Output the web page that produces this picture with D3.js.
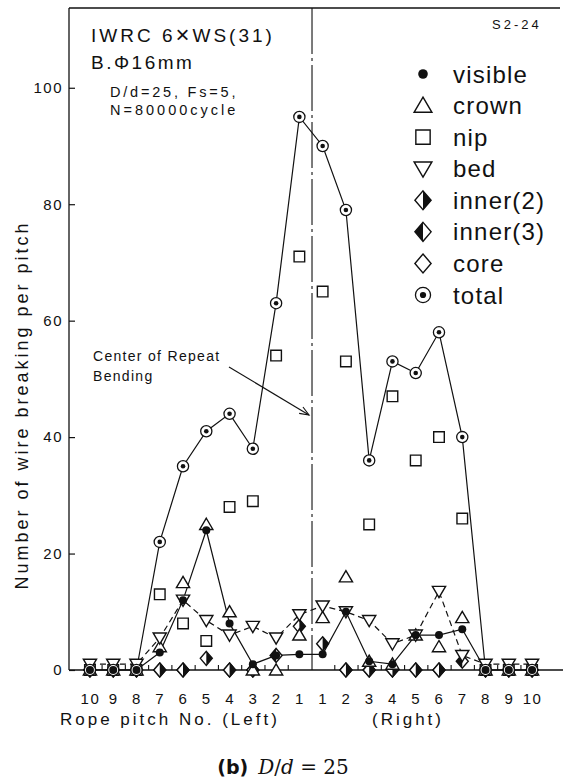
<!DOCTYPE html>
<html>
<head>
<meta charset="utf-8">
<script src="https://cdn.jsdelivr.net/npm/d3@7"></script>
<style>
  body { margin: 0; background: #fff; }
  text { font-family: "Liberation Sans", Arial, sans-serif; fill: #111; }
</style>
</head>
<body>
<svg id="chart" width="563" height="784"></svg>
<script>
// Rope pitch positions: left side 10..1, then right side 1..10
const pitchLabels = ["10","9","8","7","6","5","4","3","2","1","1","2","3","4","5","6","7","8","9","10"];
const yTicks = [0, 20, 40, 60, 80, 100];

// Number of wire breaks per pitch, by location in the strand
const visible = [0, 0, 0, 3, 12, 24, 8, 1, 2.5, 2.7, 2.7, 10, 1.5, 1, 6, 6, 7, 0, 0, 0];
const crown   = [0, 0, 0, 4, 15, 25, 10, 0, 0, 6, 9, 16, 1.5, 1, 6, 4, 9, 0, 0, 0];
const nip     = [0, 0, 0, 13, 8, 5, 28, 29, 54, 71, 65, 53, 25, 47, 36, 40, 26, 0, 0, 0];
const bed     = [1, 1, 1, 5.5, 12, 8.5, 6, 7.5, 5.5, 9.5, 11, 10, 8.5, 4.5, 6, 13.5, 2.5, 1, 1, 1];
const inner2  = [0, 0, 0, 0, 0, 2, 0, 0, null, 7.5, 4.5, 0, 0, 0, 0, 0, null, 0, 0, 0];
const inner3  = [null, null, null, null, null, null, null, null, 2.5, null, null, null, null, null, null, null, 1.5, null, null, null];
const core    = [0, 0, 0, 0, 0, null, 0, 0, null, null, null, 0, 0, 0, 0, 0, null, 0, 0, 0];
const total   = [0, 0, 0, 22, 35, 41, 44, 38, 63, 95, 90, 79, 36, 53, 51, 58, 40, 0, 0, 0];

const legendNames = ["visible", "crown", "nip", "bed", "inner(2)", "inner(3)", "core", "total"];

const svg = d3.select("#chart");
const W = 563, H = 784;

const x = d3.scaleLinear().domain([-0.9, 20.2]).range([69, 560]);
const y = d3.scaleLinear().domain([0, 113.7]).range([670, 8]);

// ---- marker shapes -------------------------------------------------------
function triUp(cx, cy, k) {
  const w = 6.6 * k, t = 6.2 * k, b = 5 * k;
  return `M${cx},${cy - t}L${cx + w},${cy + b}L${cx - w},${cy + b}Z`;
}
function triDown(cx, cy, k) {
  const w = 6.6 * k, t = 6.2 * k, b = 5 * k;
  return `M${cx},${cy + t}L${cx + w},${cy - b}L${cx - w},${cy - b}Z`;
}
function square(cx, cy, k) {
  const h = 5.3 * k;
  return `M${cx - h},${cy - h}H${cx + h}V${cy + h}H${cx - h}Z`;
}
function diamond(cx, cy, k) {
  const w = 6 * k, h = 7 * k;
  return `M${cx},${cy - h}L${cx + w},${cy}L${cx},${cy + h}L${cx - w},${cy}Z`;
}
function halfDiamond(cx, cy, k, side) {
  const w = 6 * k * side, h = 7 * k;
  return `M${cx},${cy - h}L${cx + w},${cy}L${cx},${cy + h}Z`;
}

function drawMarker(g, type, cx, cy, k) {
  const sw = 1.4;
  switch (type) {
    case "visible":
      g.append("circle").attr("cx", cx).attr("cy", cy).attr("r", 4 * k).attr("fill", "#111");
      break;
    case "crown":
      g.append("path").attr("d", triUp(cx, cy, k)).attr("fill", "#fff").attr("stroke", "#111").attr("stroke-width", sw);
      break;
    case "nip":
      g.append("path").attr("d", square(cx, cy, k)).attr("fill", "#fff").attr("stroke", "#111").attr("stroke-width", sw);
      break;
    case "bed":
      g.append("path").attr("d", triDown(cx, cy, k)).attr("fill", "#fff").attr("stroke", "#111").attr("stroke-width", sw);
      break;
    case "inner(2)":
      g.append("path").attr("d", diamond(cx, cy, k)).attr("fill", "#fff").attr("stroke", "#111").attr("stroke-width", sw);
      g.append("path").attr("d", halfDiamond(cx, cy, k, 1)).attr("fill", "#111");
      break;
    case "inner(3)":
      g.append("path").attr("d", diamond(cx, cy, k)).attr("fill", "#fff").attr("stroke", "#111").attr("stroke-width", sw);
      g.append("path").attr("d", halfDiamond(cx, cy, k, -1)).attr("fill", "#111");
      break;
    case "core":
      g.append("path").attr("d", diamond(cx, cy, k)).attr("fill", "#fff").attr("stroke", "#111").attr("stroke-width", sw);
      break;
    case "total":
      g.append("circle").attr("cx", cx).attr("cy", cy).attr("r", 5.6 * k).attr("fill", "#fff").attr("stroke", "#111").attr("stroke-width", 1.3);
      g.append("circle").attr("cx", cx).attr("cy", cy).attr("r", 2.3 * k).attr("fill", "#111");
      break;
  }
}

// ---- frame ----------------------------------------------------------------
const frame = svg.append("g").attr("stroke", "#111").attr("stroke-width", 1.3).attr("fill", "none");
frame.append("line").attr("x1", x.range()[0]).attr("x2", x.range()[1]).attr("y1", y(113.7)).attr("y2", y(113.7));
frame.append("line").attr("x1", x.range()[0]).attr("x2", x.range()[0]).attr("y1", y(113.7)).attr("y2", y(0));
frame.append("line").attr("x1", x.range()[0]).attr("x2", W).attr("y1", y(0)).attr("y2", y(0));

// y axis (ticks point inward)
const yAxis = svg.append("g")
  .attr("transform", `translate(${x.range()[0]},0)`)
  .call(d3.axisLeft(y).tickValues(yTicks).tickSize(-6).tickPadding(6).tickFormat(d3.format("d")));
yAxis.select(".domain").remove();
yAxis.selectAll("line").attr("stroke", "#111").attr("stroke-width", 1.2);
yAxis.selectAll("text").attr("font-size", 15).attr("letter-spacing", 1.5)
  .attr("font-family", "Liberation Sans, Arial, sans-serif").attr("fill", "#111");

// x axis: small inward ticks on pitch boundaries
const boundaries = d3.range(0.5, 19, 1).filter(d => d !== 9.5);
const xTickAxis = svg.append("g")
  .attr("transform", `translate(0,${y(0)})`)
  .call(d3.axisBottom(x).tickValues(boundaries).tickSize(-5).tickFormat(""));
xTickAxis.select(".domain").remove();
xTickAxis.selectAll("line").attr("stroke", "#111").attr("stroke-width", 1.1);

// x axis: pitch number labels
const xLabAxis = svg.append("g")
  .attr("transform", `translate(0,${y(0)})`)
  .call(d3.axisBottom(x).tickValues(d3.range(pitchLabels.length)).tickSize(0).tickPadding(23)
        .tickFormat(i => pitchLabels[i]));
xLabAxis.select(".domain").remove();
xLabAxis.selectAll("text").attr("font-size", 15).attr("letter-spacing", 1.5)
  .attr("font-family", "Liberation Sans, Arial, sans-serif").attr("fill", "#111");

// axis titles
svg.append("text").attr("x", 60).attr("y", 725).attr("font-size", 17).attr("letter-spacing", 3)
  .text("Rope pitch No. (Left)");
svg.append("text").attr("x", 372).attr("y", 725).attr("font-size", 17).attr("letter-spacing", 3)
  .text("(Right)");
svg.append("text")
  .attr("transform", "translate(28,405) rotate(-90)")
  .attr("text-anchor", "middle").attr("font-size", 18).attr("letter-spacing", 3)
  .text("Number of wire breaking per pitch");

// centre of repeat bending (dash-dot line between left and right pitch 1)
svg.append("line")
  .attr("x1", x(9.5) + 1).attr("x2", x(9.5) + 1).attr("y1", y(113.7)).attr("y2", y(0))
  .attr("stroke", "#111").attr("stroke-width", 1.1).attr("stroke-dasharray", "46,4,3,4");

// annotation
svg.append("text").attr("x", 93).attr("y", 361).attr("font-size", 14).attr("letter-spacing", 1.3)
  .text("Center of Repeat");
svg.append("text").attr("x", 93).attr("y", 381).attr("font-size", 14).attr("letter-spacing", 1.3)
  .text("Bending");
const ax0 = 229, ay0 = 367, ax1 = x(9.5) - 2, ay1 = 415;
svg.append("line").attr("x1", ax0).attr("y1", ay0).attr("x2", ax1).attr("y2", ay1)
  .attr("stroke", "#111").attr("stroke-width", 1.1);
{
  const ang = Math.atan2(ay1 - ay0, ax1 - ax0), L = 10, spread = 0.38;
  const p1 = [ax1 - L * Math.cos(ang - spread), ay1 - L * Math.sin(ang - spread)];
  const p2 = [ax1 - L * Math.cos(ang + spread), ay1 - L * Math.sin(ang + spread)];
  svg.append("path").attr("d", `M${p1[0]},${p1[1]}L${ax1},${ay1}L${p2[0]},${p2[1]}`)
    .attr("fill", "none").attr("stroke", "#111").attr("stroke-width", 1.1);
}

// header text
const h1 = svg.append("text").attr("x", 91).attr("y", 42).attr("font-size", 19).attr("letter-spacing", 3);
h1.append("tspan").text("IWRC 6");
h1.append("tspan").attr("font-size", 24).attr("dy", 1).text("\u00D7");
h1.append("tspan").attr("dy", -1).text("WS(31)");
svg.append("text").attr("x", 91).attr("y", 69).attr("font-size", 19).attr("letter-spacing", 2.5)
  .text("B.\u03A616mm");
svg.append("text").attr("x", 110).attr("y", 97).attr("font-size", 14.5).attr("letter-spacing", 2.8)
  .text("D/d=25, Fs=5,");
svg.append("text").attr("x", 110).attr("y", 115).attr("font-size", 14.5).attr("letter-spacing", 3)
  .text("N=80000cycle");
svg.append("text").attr("x", 492).attr("y", 29).attr("font-size", 13).attr("letter-spacing", 3)
  .text("S2-24");

// ---- series lines ---------------------------------------------------------
const lineGen = d3.line().defined(d => d != null).x((d, i) => x(i)).y(d => y(d));
const lines = svg.append("g").attr("fill", "none").attr("stroke", "#111").attr("stroke-width", 1.2);
lines.append("path").attr("d", lineGen(total));
lines.append("path").attr("d", lineGen(visible));
lines.append("path").attr("d", lineGen(bed)).attr("stroke-dasharray", "6,4");

// ---- markers ---------------------------------------------------------------
const seriesOrder = [
  ["core", core], ["inner(3)", inner3], ["inner(2)", inner2], ["nip", nip],
  ["crown", crown], ["bed", bed], ["total", total], ["visible", visible]
];
const marks = svg.append("g");
seriesOrder.forEach(([name, vals]) => {
  vals.forEach((v, i) => {
    if (v == null) return;
    drawMarker(marks, name, x(i), y(v), 1);
  });
});

// ---- legend ----------------------------------------------------------------
const legend = svg.append("g");
const legendY = d3.scaleLinear().domain([0, legendNames.length - 1]).range([74, 295]);
legendNames.forEach((name, i) => {
  const cy = legendY(i);
  drawMarker(legend, name, 423, cy, name === "visible" ? 1.2 : 1.35);
  legend.append("text").attr("x", 453).attr("y", cy + 8.5).attr("font-size", 24).attr("letter-spacing", 1.2)
    .text(name);
});

// ---- caption -----------------------------------------------------------------
const cap = svg.append("text").attr("x", 283).attr("y", 774).attr("text-anchor", "middle")
  .attr("font-size", 20).style("font-family", "'DejaVu Serif', 'Liberation Serif', serif");
cap.append("tspan").attr("font-weight", "bold").style("font-family", "'DejaVu Sans', sans-serif").attr("font-size", 19).text("(b)");
cap.append("tspan").text("\u2002");
cap.append("tspan").attr("font-style", "italic").text("D");
cap.append("tspan").text("/");
cap.append("tspan").attr("font-style", "italic").text("d");
cap.append("tspan").text(" = 25");
</script>
</body>
</html>
